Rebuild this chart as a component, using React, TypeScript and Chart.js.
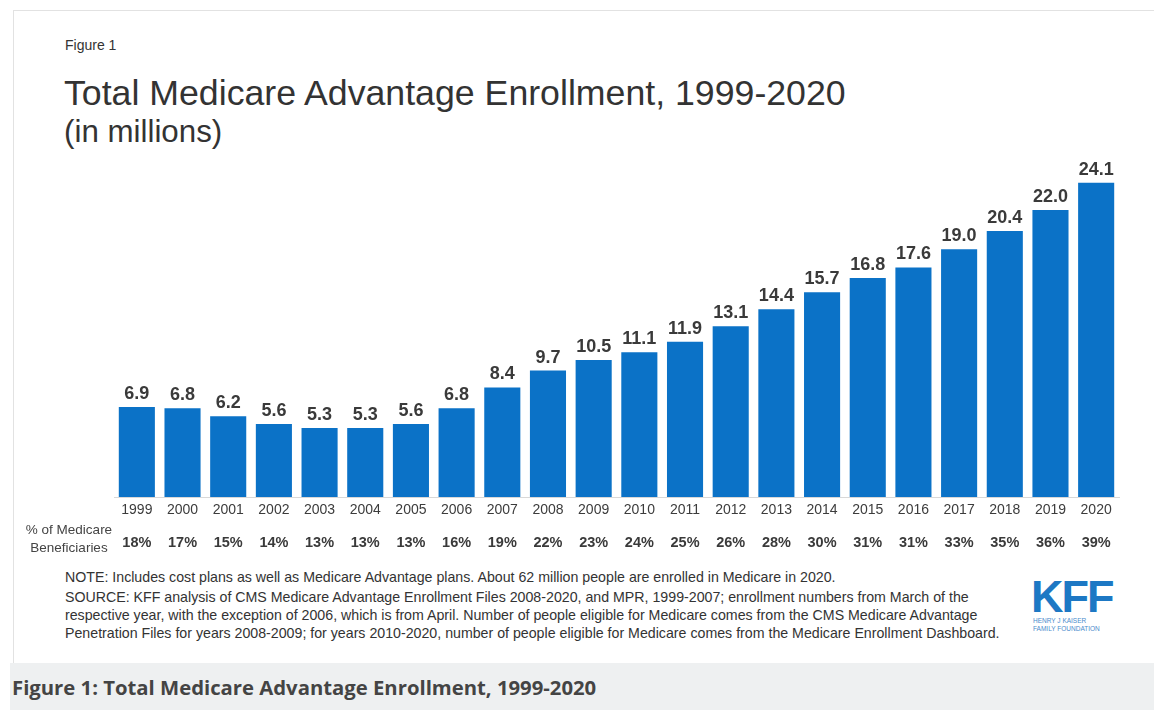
import React, { useEffect, useRef } from "react";
import { Chart, registerables } from "chart.js";

Chart.register(...registerables);

const years = ["1999","2000","2001","2002","2003","2004","2005","2006","2007","2008","2009","2010","2011","2012","2013","2014","2015","2016","2017","2018","2019","2020"];
const enrollment = [6.9, 6.8, 6.2, 5.6, 5.3, 5.3, 5.6, 6.8, 8.4, 9.7, 10.5, 11.1, 11.9, 13.1, 14.4, 15.7, 16.8, 17.6, 19.0, 20.4, 22.0, 24.1];
const pctBeneficiaries = ["18%","17%","15%","14%","13%","13%","13%","16%","19%","22%","23%","24%","25%","26%","28%","30%","31%","31%","33%","35%","36%","39%"];

const FONT = "'Liberation Sans', Arial, Helvetica, sans-serif";
const BAR_COLOR = "#0b72c7";

const valueLabels = {
  id: "valueLabels",
  afterDatasetsDraw(chart: any) {
    const ctx = chart.ctx;
    const meta = chart.getDatasetMeta(0);
    ctx.save();
    ctx.font = `bold 18px ${FONT}`;
    ctx.fillStyle = "#3a3a3a";
    ctx.textAlign = "center";
    ctx.textBaseline = "alphabetic";
    meta.data.forEach((bar: any, i: number) => {
      const v = chart.data.datasets[0].data[i] as number;
      ctx.fillText(v.toFixed(1), bar.x, bar.y - 8);
    });
    ctx.restore();
  },
};

export default function App() {
  const ref = useRef<HTMLCanvasElement | null>(null);

  useEffect(() => {
    if (!ref.current) return;
    const chart = new Chart(ref.current, {
      type: "bar",
      data: {
        labels: years,
        datasets: [
          {
            data: enrollment,
            backgroundColor: BAR_COLOR,
            borderWidth: 0,
            categoryPercentage: 1,
            barPercentage: 0.79,
            xAxisID: "x",
          },
        ],
      },
      options: {
        responsive: false,
        animation: false,
        layout: { padding: { left: 100, right: 15, top: 31, bottom: 3 } },
        plugins: {
          legend: { display: false },
          tooltip: { enabled: false },
          title: { display: false },
        },
        scales: {
          y: { display: false, min: 0, max: 25 },
          x: {
            type: "category",
            position: "bottom",
            weight: 0,
            grid: { display: false, drawTicks: false },
            border: { display: true, color: "#d8d8d8", width: 1 },
            ticks: {
              color: "#3c3c3c",
              font: { family: FONT, size: 14 },
              padding: 5,
              maxRotation: 0,
              autoSkip: false,
            },
            afterFit(scale: any) {
              scale.height = 20;
            },
          },
          x2: {
            type: "category",
            position: "bottom",
            weight: 1,
            labels: pctBeneficiaries,
            offset: true,
            grid: { display: false, drawTicks: false },
            border: { display: false },
            ticks: {
              color: "#3a3a3a",
              font: { family: FONT, size: 14.5, weight: "bold" },
              padding: 17,
              maxRotation: 0,
              autoSkip: false,
            },
            afterFit(scale: any) {
              scale.height = 40;
            },
          },
        },
      },
      plugins: [valueLabels],
    } as any);
    return () => chart.destroy();
  }, []);

  return (
    <div
      style={{
        position: "absolute",
        left: 0,
        top: 0,
        width: 1154,
        height: 710,
        overflow: "hidden",
        background: "#ffffff",
        fontFamily: FONT,
      }}
    >
      <div
        style={{
          position: "absolute",
          left: 13,
          top: 10,
          width: 1160,
          height: 652,
          borderTop: "1px solid #e2e2e2",
          borderLeft: "1px solid #e2e2e2",
          background: "#ffffff",
        }}
      />
      <div style={{ position: "absolute", left: 65, top: 37, fontSize: 14, color: "#333" }}>Figure 1</div>
      <div style={{ position: "absolute", left: 64, top: 73, fontSize: 35.7, color: "#333", whiteSpace: "nowrap" }}>
        Total Medicare Advantage Enrollment, 1999-2020
      </div>
      <div style={{ position: "absolute", left: 64, top: 114, fontSize: 31.3, color: "#333", whiteSpace: "nowrap" }}>
        (in millions)
      </div>
      <canvas
        ref={ref}
        width={1120}
        height={420}
        style={{ position: "absolute", left: 14, top: 140, width: 1120, height: 420 }}
      />
      <div
        style={{
          position: "absolute",
          left: 18,
          top: 521,
          width: 102,
          textAlign: "center",
          fontSize: 13.5,
          lineHeight: "18px",
          color: "#444",
        }}
      >
        % of Medicare
        <br />
        Beneficiaries
      </div>
      <div
        style={{
          position: "absolute",
          left: 65,
          top: 568,
          width: 960,
          fontSize: 14.2,
          lineHeight: "18px",
          color: "#333",
          whiteSpace: "nowrap",
        }}
      >
        <div style={{ marginBottom: 2 }}>
          NOTE: Includes cost plans as well as Medicare Advantage plans. About 62 million people are enrolled in Medicare in 2020.
        </div>
        <div>
          SOURCE: KFF analysis of CMS Medicare Advantage Enrollment Files 2008-2020, and MPR, 1999-2007; enrollment numbers from March of the
          <br />
          respective year, with the exception of 2006, which is from April. Number of people eligible for Medicare comes from the CMS Medicare Advantage
          <br />
          Penetration Files for years 2008-2009; for years 2010-2020, number of people eligible for Medicare comes from the Medicare Enrollment Dashboard.
        </div>
      </div>
      <div
        style={{
          position: "absolute",
          left: 1031,
          top: 574,
          fontSize: 45,
          fontWeight: "bold",
          color: "#1d78c4",
          letterSpacing: -2,
          lineHeight: "45px",
          whiteSpace: "nowrap",
        }}
      >
        KFF
      </div>
      <div
        style={{
          position: "absolute",
          left: 1033,
          top: 617,
          fontSize: 6.5,
          color: "#4a8ccc",
          lineHeight: "8px",
          whiteSpace: "nowrap",
        }}
      >
        HENRY J KAISER
        <br />
        FAMILY FOUNDATION
      </div>
      <div
        style={{
          position: "absolute",
          left: 10,
          top: 663,
          width: 1150,
          height: 47,
          background: "#eef0f1",
        }}
      >
        <div
          style={{
            position: "absolute",
            left: 2,
            top: 10,
            fontFamily: "'Open Sans', sans-serif",
            fontWeight: 700,
            fontSize: 20.3,
            color: "#444",
            whiteSpace: "nowrap",
          }}
        >
          Figure 1: Total Medicare Advantage Enrollment, 1999-2020
        </div>
      </div>
    </div>
  );
}
